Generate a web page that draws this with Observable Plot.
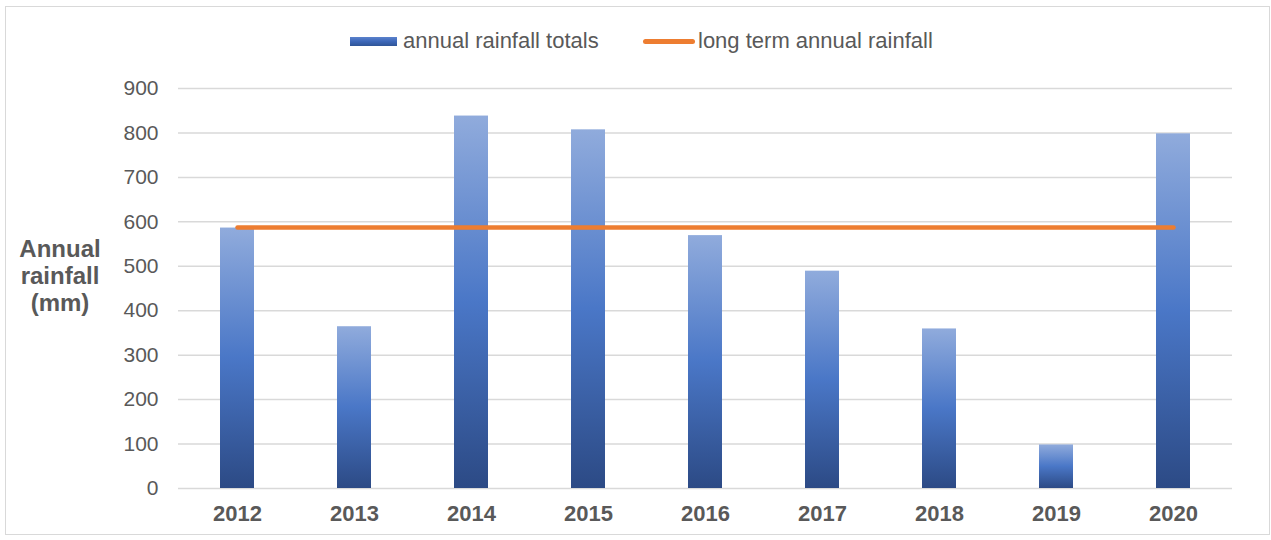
<!DOCTYPE html>
<html><head><meta charset="utf-8">
<script src="https://cdn.jsdelivr.net/npm/d3@7"></script>
<script src="https://cdn.jsdelivr.net/npm/@observablehq/plot@0.6"></script>
<style>
body{margin:0;background:#fff;font-family:"Liberation Sans",Arial,sans-serif;}
#wrap{position:relative;width:1271px;height:540px;overflow:hidden;background:#fff;}
#frame{position:absolute;left:5px;top:6px;width:1263px;height:527px;border:1.5px solid #d9d9d9;pointer-events:none;}
#chart{position:absolute;left:0;top:0;}
.leg{position:absolute;font-size:22px;color:#595959;white-space:nowrap;line-height:1;}
#ylab{position:absolute;left:0;width:120px;top:235px;text-align:center;font-weight:bold;font-size:24px;line-height:27px;color:#595959;}
</style></head>
<body>
<div id="wrap">
  <div id="chart"></div>
  <div id="frame"></div>
  <div class="leg" id="sw1" style="left:350px;top:37px;width:47px;height:9px;"></div>
  <div class="leg" id="t1" style="left:403px;top:29.5px;"></div>
  <div class="leg" style="left:643px;top:39px;width:52px;height:4.5px;background:#ED7D31;border-radius:2.5px;"></div>
  <div class="leg" id="t2" style="left:698px;top:29.5px;"></div>
  <div id="ylab">Annual<br>rainfall<br>(mm)</div>
</div>
<script>
const years = ["2012","2013","2014","2015","2016","2017","2018","2019","2020"];
const rainfall = [586, 364, 838, 807, 569, 489, 359, 98, 798];
const longTermRainfall = 587;
const yTicks = [0,100,200,300,400,500,600,700,800,900];
const seriesNames = ["annual rainfall totals", "long term annual rainfall"];

document.getElementById("t1").textContent = seriesNames[0];
document.getElementById("t2").textContent = seriesNames[1];

const data = years.map((y, i) => ({year: y, rain: rainfall[i]}));
const longTerm = years.map(y => ({year: y, rain: longTermRainfall}));

const plot = Plot.plot({
  width: 1271,
  height: 540,
  marginTop: 88,
  marginBottom: 52,
  marginLeft: 178,
  marginRight: 39,
  style: {background: "transparent", fontFamily: "'Liberation Sans', Arial, sans-serif"},
  x: {type: "band", domain: years, paddingInner: 0.71, paddingOuter: 0.355, label: null},
  y: {domain: [0, 900], label: null},
  marks: [
    Plot.gridY(yTicks, {stroke: "#d9d9d9", strokeOpacity: 1, strokeWidth: 1.5}),
    Plot.barY(data, {x: "year", y: "rain", fill: "url(#barGrad)"}),
    Plot.lineY(longTerm, {x: "year", y: "rain", stroke: "#ED7D31", strokeWidth: 4.5, strokeLinecap: "round"}),
    Plot.axisY(yTicks, {tickSize: 0, tickPadding: 20, fontSize: 21, fill: "#595959", label: null}),
    Plot.axisX({tickSize: 0, tickPadding: 17, fontSize: 22, fontWeight: "bold", fill: "#595959", label: null})
  ]
});

const svg = d3.select(plot);
const defs = svg.insert("defs", ":first-child");
const g = defs.append("linearGradient").attr("id", "barGrad").attr("x1", 0).attr("y1", 0).attr("x2", 0).attr("y2", 1);
g.append("stop").attr("offset", "0%").attr("stop-color", "#90abdc");
g.append("stop").attr("offset", "50%").attr("stop-color", "#4a77c7");
g.append("stop").attr("offset", "100%").attr("stop-color", "#2c4a85");
document.getElementById("chart").appendChild(plot);
document.getElementById("sw1").style.background = "linear-gradient(#5b82cc, #3d67b8 50%, #2f5597)";
</script>
</body></html>
